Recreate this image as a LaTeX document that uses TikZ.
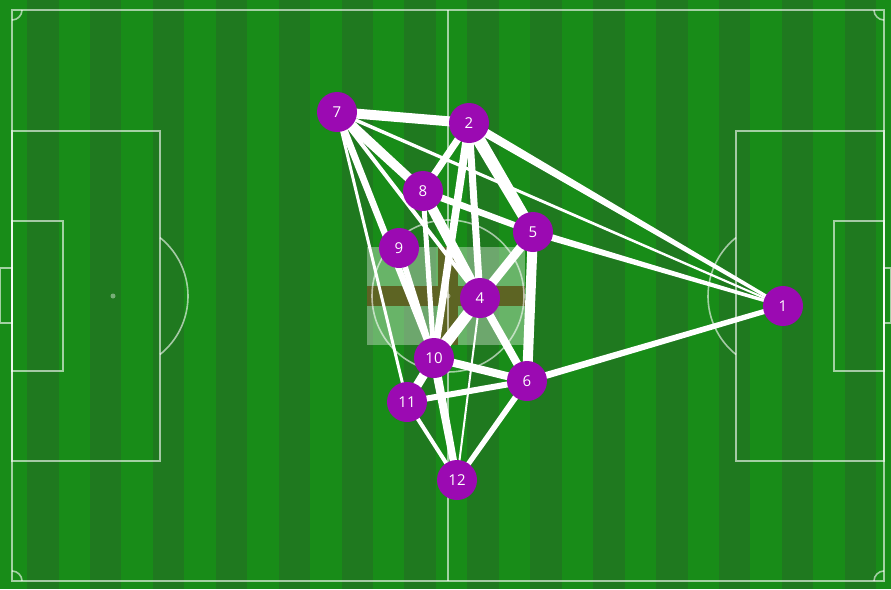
\documentclass[tikz,border=0pt]{standalone}
\usepackage{fontspec}
\newfontfamily\nodefont{Open Sans}
\usetikzlibrary{calc}
\pgfdeclarelayer{bg}
\pgfdeclarelayer{edges}
\pgfsetlayers{bg,edges,main}
\definecolor{grassL}{RGB}{24,140,24}
\definecolor{grassD}{RGB}{31,121,31}
\definecolor{playercol}{RGB}{155,10,178}
\definecolor{crosscol}{RGB}{92,86,24}
\tikzset{
  pline/.style={draw=white, draw opacity=0.6, line width=1.6pt},
  player/.style={circle, fill=playercol, minimum size=40pt, inner sep=0pt, text=white, font=\nodefont\fontsize{15}{15}\selectfont},
  edgefill/.style={fill=white}
}
\newcommand{\pedge}[4]{\fill[edgefill] ($(#1)!#3!90:(#2)$) -- ($(#2)!#4!-90:(#1)$) -- ($(#2)!#4!90:(#1)$) -- ($(#1)!#3!-90:(#2)$) -- cycle;}
\begin{document}
\begin{tikzpicture}[x=1pt,y=-1pt]
\useasboundingbox (0,0) rectangle (891,589);
\begin{pgfonlayer}{bg}
  \fill[grassL] (0,0) rectangle (891,589);
  \foreach \k in {0,...,13} {
    \fill[grassD] ({27+62.9*\k},0) rectangle ({58.5+62.9*\k},589);
  }
  % centre overlay
  \fill[white, fill opacity=0.35] (367,247) rectangle (525,345);
  \fill[crosscol, fill opacity=0.85] (367,286) rectangle (525,306);
  \fill[crosscol, fill opacity=0.85] (438,247) rectangle (458,286);
  \fill[crosscol, fill opacity=0.85] (438,306) rectangle (458,345);
  % pitch lines
  \draw[pline] (12,10) rectangle (884,581);
  \draw[pline] (448,10) -- (448,581);
  \draw[pline] (448,296) circle[radius=76];
  \fill[white, fill opacity=0.4] (448,296) circle[radius=2.5];
  \fill[white, fill opacity=0.4] (113,296) circle[radius=2.5];
  \fill[white, fill opacity=0.4] (784,296) circle[radius=2.5];
  \draw[pline] (12,131) rectangle (160,461);
  \draw[pline] (736,131) rectangle (884,461);
  \draw[pline] (12,221) rectangle (63,371);
  \draw[pline] (834,221) rectangle (884,371);
  \draw[pline] (0,268) rectangle (12,323);
  \draw[pline] (884,268) rectangle (891,323);
  \draw[pline] (160,237.6) arc[start angle=-51.2, end angle=51.2, radius=75];
  \draw[pline] (736,237.6) arc[start angle=231.2, end angle=128.8, radius=75];
  \draw[pline] (22,10) arc[start angle=0, end angle=90, radius=10];
  \draw[pline] (874,10) arc[start angle=180, end angle=90, radius=10];
  \draw[pline] (22,581) arc[start angle=0, end angle=-90, radius=10];
  \draw[pline] (874,581) arc[start angle=180, end angle=270, radius=10];
\end{pgfonlayer}
% players
\node[player] (n1) at (783,306) {1};
\node[player] (n2) at (469,123) {2};
\node[player] (n4) at (480,298) {4};
\node[player] (n5) at (533,232) {5};
\node[player] (n6) at (527,381) {6};
\node[player] (n7) at (337,112) {7};
\node[player] (n8) at (423,191) {8};
\node[player] (n9) at (399,248) {9};
\node[player] (n10) at (434,358) {10};
\node[player] (n11) at (407,402) {11};
\node[player] (n12) at (457,480) {12};
\begin{pgfonlayer}{edges}
  \pedge{n7}{n2}{5pt}{5pt}
  \pedge{n7}{n1}{1.8pt}{1pt}
  \pedge{n7}{n8}{5pt}{4.5pt}
  \pedge{n7}{n4}{2pt}{2pt}
  \pedge{n7}{n10}{3.5pt}{3pt}
  \pedge{n7}{n11}{1.5pt}{1.5pt}
  \pedge{n2}{n8}{3.5pt}{3.5pt}
  \pedge{n2}{n10}{4pt}{3.5pt}
  \pedge{n2}{n4}{3.5pt}{3.5pt}
  \pedge{n2}{n5}{6.5pt}{5.5pt}
  \pedge{n2}{n1}{4.5pt}{1.5pt}
  \pedge{n8}{n5}{3.5pt}{3pt}
  \pedge{n8}{n4}{5pt}{5pt}
  \pedge{n8}{n10}{2.5pt}{2.5pt}
  \pedge{n9}{n10}{3pt}{2.5pt}
  \pedge{n5}{n1}{3.5pt}{1.5pt}
  \pedge{n5}{n4}{4.5pt}{4.5pt}
  \pedge{n5}{n6}{5pt}{5pt}
  \pedge{n4}{n6}{4pt}{4pt}
  \pedge{n4}{n10}{5.5pt}{6pt}
  \pedge{n4}{n12}{1pt}{1pt}
  \pedge{n10}{n11}{4.5pt}{4.5pt}
  \pedge{n10}{n6}{4pt}{4pt}
  \pedge{n10}{n12}{4.5pt}{3.5pt}
  \pedge{n11}{n6}{3pt}{3pt}
  \pedge{n11}{n12}{2pt}{2pt}
  \pedge{n6}{n12}{3pt}{2.5pt}
  \pedge{n6}{n1}{3.5pt}{2.5pt}
\end{pgfonlayer}
\end{tikzpicture}
\end{document}
